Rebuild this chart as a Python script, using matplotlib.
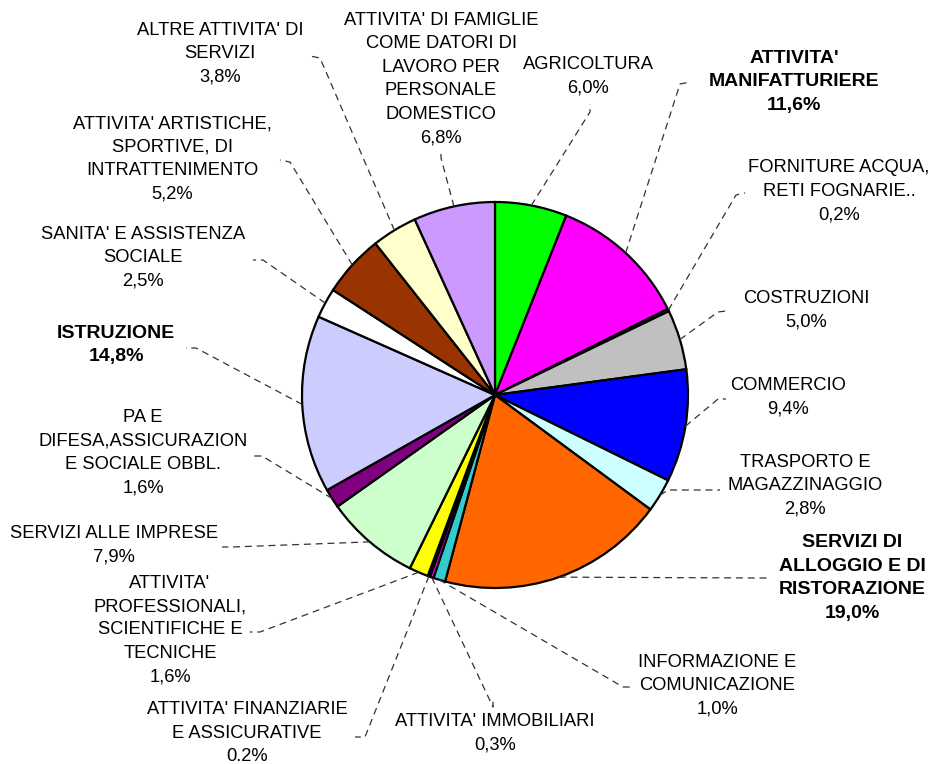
import matplotlib
matplotlib.use("Agg")
import matplotlib.pyplot as plt
import numpy as np

plt.rcParams['font.family'] = ['Liberation Sans', 'DejaVu Sans']
plt.rcParams['lines.scale_dashes'] = False

# slices, clockwise from 12 o'clock
sectors = [
    "AGRICOLTURA",
    "ATTIVITA'\nMANIFATTURIERE",
    "FORNITURE ACQUA,\nRETI FOGNARIE..",
    "COSTRUZIONI",
    "COMMERCIO",
    "TRASPORTO E\nMAGAZZINAGGIO",
    "SERVIZI DI\nALLOGGIO E DI\nRISTORAZIONE",
    "INFORMAZIONE E\nCOMUNICAZIONE",
    "ATTIVITA' IMMOBILIARI",
    "ATTIVITA' FINANZIARIE\nE ASSICURATIVE",
    "ATTIVITA'\nPROFESSIONALI,\nSCIENTIFICHE E\nTECNICHE",
    "SERVIZI ALLE IMPRESE",
    "PA E\nDIFESA,ASSICURAZION\nE SOCIALE OBBL.",
    "ISTRUZIONE",
    "SANITA' E ASSISTENZA\nSOCIALE",
    "ATTIVITA' ARTISTICHE,\nSPORTIVE, DI\nINTRATTENIMENTO",
    "ALTRE ATTIVITA' DI\nSERVIZI",
    "ATTIVITA' DI FAMIGLIE\nCOME DATORI DI\nLAVORO PER\nPERSONALE\nDOMESTICO",
]
shares = [6.0, 11.6, 0.2, 5.0, 9.4, 2.8, 19.0, 1.0, 0.3, 0.2,
          1.6, 7.9, 1.6, 14.8, 2.5, 5.2, 3.8, 6.8]
share_text = ["6,0%", "11,6%", "0,2%", "5,0%", "9,4%", "2,8%", "19,0%", "1,0%", "0,3%",
              "0.2%", "1,6%", "7,9%", "1,6%", "14,8%", "2,5%", "5,2%", "3,8%", "6,8%"]
highlight = {1, 6, 13}

colors = ["#00FF00", "#FF00FF", "#FFFFCC", "#C0C0C0", "#0000FF", "#CCFFFF",
          "#FF6600", "#33CCCC", "#FF00FF", "#333399", "#FFFF00", "#CCFFCC",
          "#800080", "#CCCCFF", "#FFFFFF", "#993300", "#FFFFCC", "#CC99FF"]

# layout in pixels from top-left: label centre, elbow of leader line, tick end
label_xy = [(588, 76), (794, 82), (839, 191), (806, 310), (788, 397), (805, 486),
            (852, 578), (717, 686), (495, 733), (247, 733), (170, 630), (114, 545),
            (143, 453), (116, 345), (143, 258), (172, 159), (220, 54), (441, 79)]
elbow_xy = [(590, 112), (680, 84), (736, 195), (718, 312), (718, 399), (668, 490),
            (760, 578), (623, 687), (493, 707), (365, 737), (260, 632), (232, 547),
            (262, 456), (196, 348), (263, 260), (290, 162), (320, 58), (441, 158)]
tick_xy = [(590, 104), (690, 82), (745, 193), (726, 311), (726, 399), (720, 490),
           (768, 578), (632, 687), (493, 699), (355, 737), (250, 632), (222, 547),
           (252, 456), (186, 348), (253, 260), (280, 160), (310, 56), (441, 150)]
line_step = 23.5

W, H = 936, 764
cx, cy, R = 495, 395, 193

fig = plt.figure(figsize=(W / 100, H / 100), dpi=100)
ax = fig.add_axes([0, 0, 1, 1])

wedges, _ = ax.pie(shares, colors=colors, startangle=90, counterclock=False,
                   center=(cx, H - cy), radius=R, frame=True,
                   wedgeprops=dict(edgecolor='black', linewidth=1.6))
ax.set_xlim(0, W)
ax.set_ylim(0, H)
ax.axis('off')

for i, w in enumerate(wedges):
    ang = np.deg2rad((w.theta1 + w.theta2) / 2)
    x0 = cx + R * np.cos(ang)
    y0 = (H - cy) + R * np.sin(ang)
    ex, ey = elbow_xy[i]
    tx, ty = tick_xy[i]
    ax.plot([x0, ex, tx], [y0, H - ey, H - ty], color='#333333', lw=0.9,
            dashes=(5, 3.5), solid_capstyle='butt')

    # one text per line so the block keeps the reference spacing
    lines = (sectors[i] + "\n" + share_text[i]).split("\n")
    lx, ly = label_xy[i]
    bold = i in highlight
    n = len(lines)
    for k, s in enumerate(lines):
        yy = ly + (k - (n - 1) / 2) * line_step
        ax.text(lx, H - yy, s, ha='center', va='center',
                fontsize=14 if bold else 13.2,
                fontweight='bold' if bold else 'normal', color='black')

fig.savefig("out.png", dpi=100)
